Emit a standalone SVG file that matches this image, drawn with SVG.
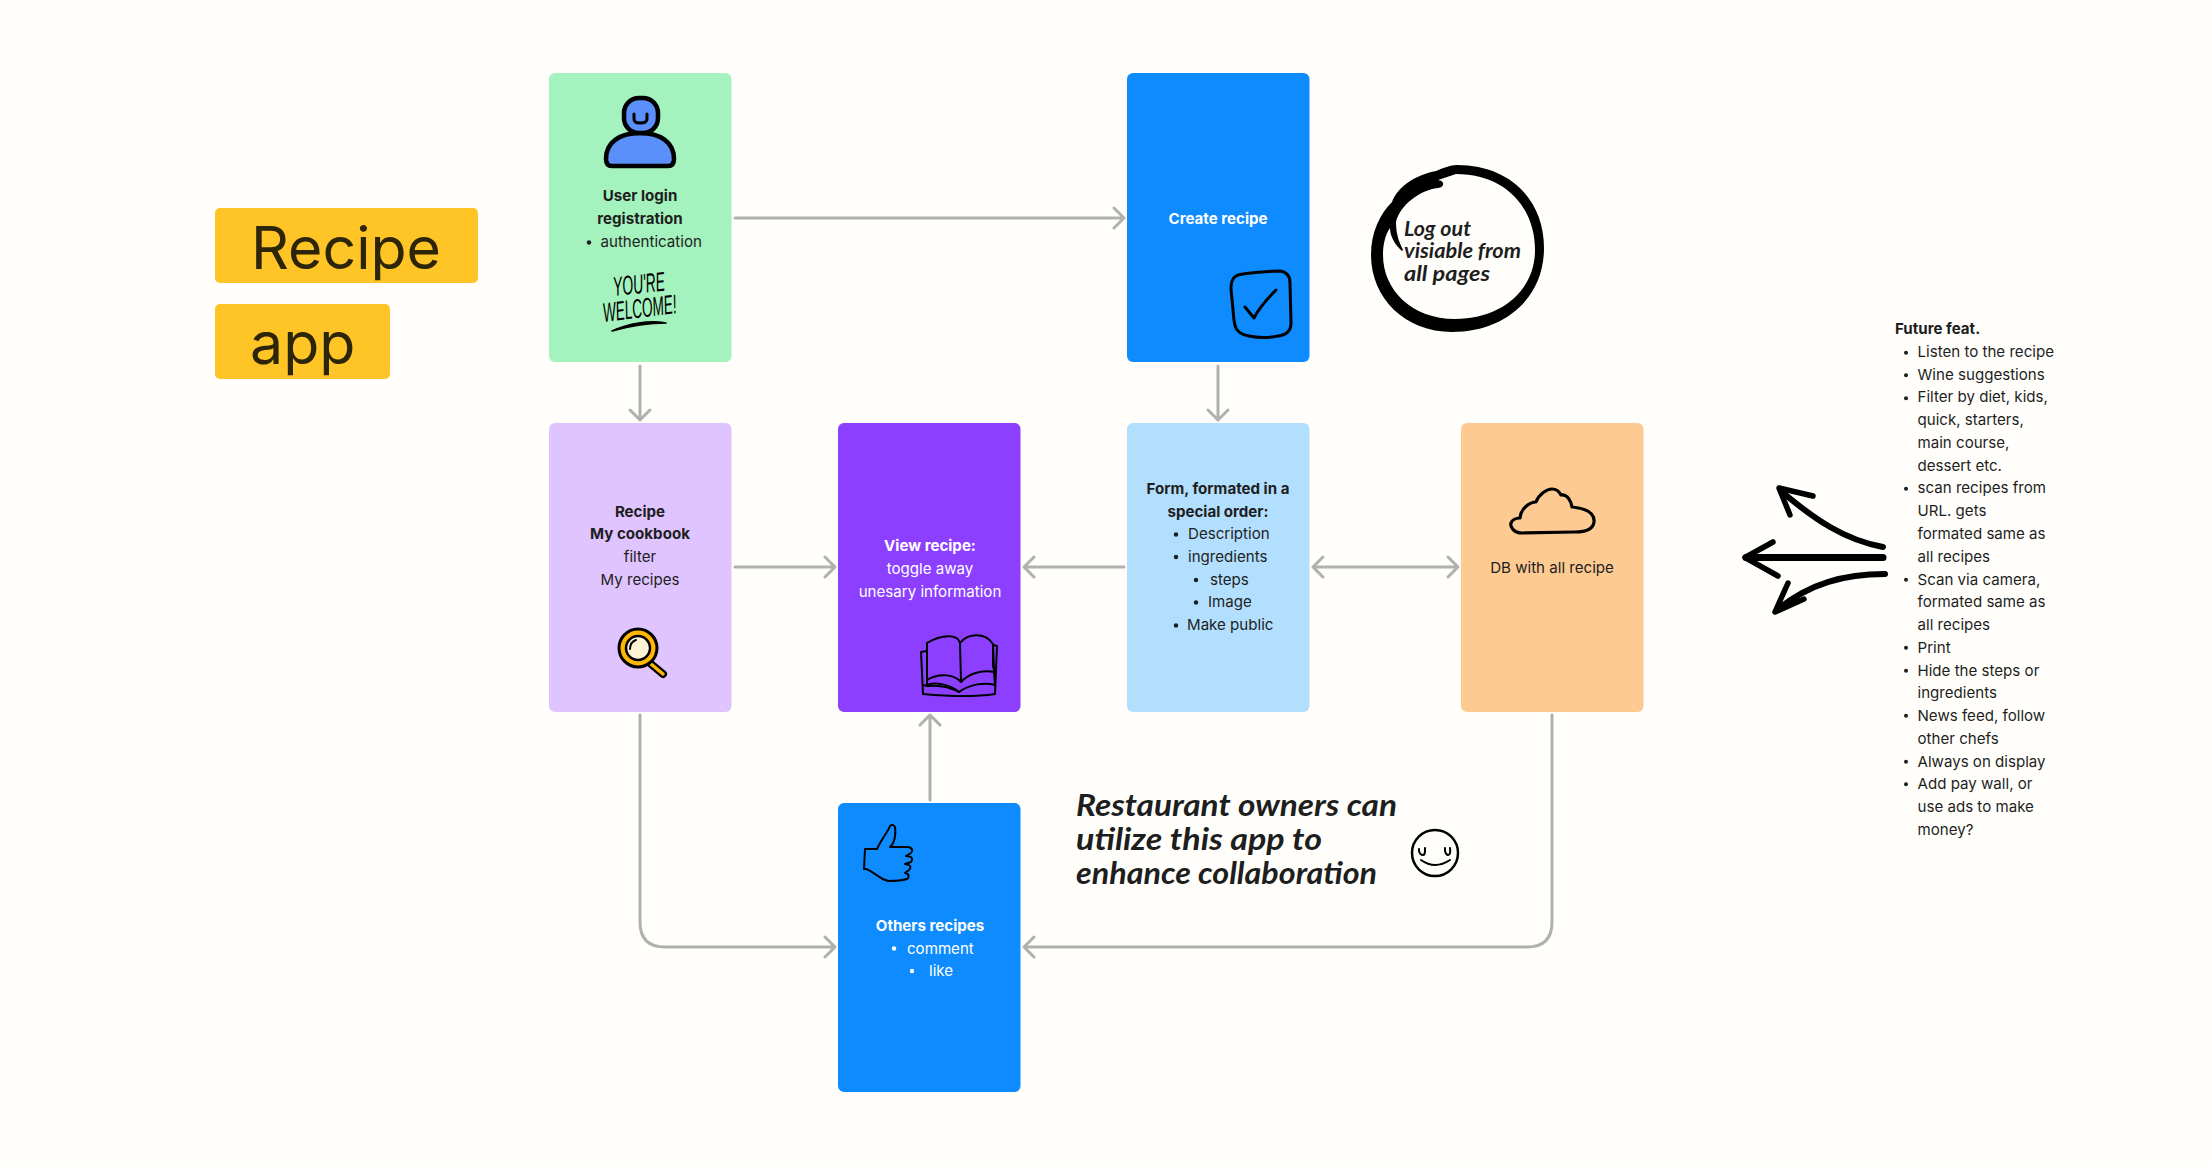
<svg xmlns="http://www.w3.org/2000/svg" width="2211" height="1164" viewBox="0 0 2211 1164">
<style>
text{font-family:Inter,"Liberation Sans",sans-serif;font-size:15.1px;fill:#1e1e1e}
.c{text-anchor:middle}
.b{font-weight:700}
.w{fill:#fff}
.t{font-size:59px;fill:#2d2508}
.h{font-family:Lato,"Liberation Sans",sans-serif;font-style:italic;font-weight:700;fill:#1e1e1e}
.h1{font-size:31px}
.h2{font-size:21px}
.y{font-family:"Liberation Sans",sans-serif;font-style:italic;font-weight:400;fill:#000;font-size:27px}
.conn path{fill:none;stroke:#b0b0ae;stroke-width:3;stroke-linecap:round;stroke-linejoin:round}
.ink{fill:none;stroke:#000;stroke-linecap:round;stroke-linejoin:round}
</style>
<rect width="2211" height="1164" fill="#fffefb"/>
<g id="title-recipe"><rect x="215" y="208" width="263" height="75" rx="5" fill="#ffc425"/><text class="t" x="251" y="269">Recipe</text></g>
<g id="title-app"><rect x="215" y="304" width="175" height="75" rx="5" fill="#ffc425"/><text class="t" x="250" y="364">app</text></g>
<g class="conn" id="connectors">
<path d="M735 218H1124M1114 208L1124 218L1114 228"/>
<path d="M640 366V420M630 410L640 420L650 410"/>
<path d="M1218 366V420M1208 410L1218 420L1228 410"/>
<path d="M735 567H835M825 557L835 567L825 577"/>
<path d="M1124 567H1024M1034 557L1024 567L1034 577"/>
<path d="M1313 567H1458M1323 557L1313 567L1323 577M1448 557L1458 567L1448 577"/>
<path d="M930 800V715M920 725L930 715L940 725"/>
<path d="M640 715V922Q640 947 665 947H835M825 937L835 947L825 957"/>
<path d="M1552 715V922Q1552 947 1527 947H1024M1034 937L1024 947L1034 957"/>
</g>
<g id="node-login">
<rect x="549" y="73" width="182.500" height="289" rx="6" fill="#a4f2bd"/>
<path d="M606 159C606 142 620 133 640 133C660 133 674 142 674 159Q674 166 668 166H612Q606 166 606 159Z" fill="#5b8ff9" stroke="#000" stroke-width="4.500"/>
<rect x="624" y="98" width="34" height="35" rx="15" fill="#5b8ff9" stroke="#000" stroke-width="4.500"/>
<path class="ink" stroke-width="3" d="M634 114V119Q634 123 640 123Q647 123 647 119V114"/>
<text class="c b" x="640" y="201">User login</text>
<text class="c b" x="640" y="224">registration</text>
<circle cx="589" cy="242.500" r="2.200" fill="#1e1e1e"/>
<text x="600.500" y="247">authentication</text>
<text class="y" transform="translate(614 296) rotate(-6)" textLength="52" lengthAdjust="spacingAndGlyphs">YOU'RE</text>
<text class="y" transform="translate(604 322) rotate(-7)" textLength="74" lengthAdjust="spacingAndGlyphs">WELCOME!</text>
<path d="M612 331C628 323 650 320 666 323C650 323 630 326 612 331Z" fill="#000" stroke="#000" stroke-width="1.500" stroke-linejoin="round"/>
</g>
<g id="node-create">
<rect x="1127" y="73" width="182.500" height="289" rx="6" fill="#0d8bff"/>
<text class="c b w" x="1218" y="224">Create recipe</text>
<path class="ink" stroke-width="3" d="M1243 274C1258 272 1270 271 1280 271C1287 272 1290 276 1290 283L1291 323C1291 331 1287 335 1278 336C1268 338 1258 338 1249 336C1238 334 1235 329 1234 320L1231 289C1231 279 1234 275 1243 274Z"/>
<path class="ink" stroke-width="3" d="M1245 307L1254 318C1260 306 1268 298 1276 290"/>
</g>
<g id="note-logout">
<path fill-rule="evenodd" d="M1457 165C1510 165 1544 200 1544 248C1544 298 1505 332 1452 332C1405 332 1371 298 1371 255C1371 232 1380 214 1392 202C1398 186 1416 175 1436 171C1443 168 1450 165 1457 165ZM1456 174C1505 174 1535 207 1535 250C1535 290 1502 319 1455 319C1412 319 1383 290 1383 255C1383 245 1385 235 1390 228C1390 236 1395 245 1402 251L1403 250C1398 240 1396 232 1396 222C1400 205 1420 190 1438 188C1445 187 1445 181 1438 180Z" fill="#000"/>
<text class="h h2" x="1404" y="236" textLength="67" lengthAdjust="spacingAndGlyphs">Log out</text>
<text class="h h2" x="1404" y="258" textLength="117" lengthAdjust="spacingAndGlyphs">visiable from</text>
<text class="h h2" x="1404" y="281" textLength="86" lengthAdjust="spacingAndGlyphs">all pages</text>
</g>
<g id="node-cookbook">
<rect x="549" y="423" width="182.500" height="289" rx="6" fill="#e0c4ff"/>
<text class="c b" x="640" y="516.500">Recipe</text>
<text class="c b" x="640" y="539">My cookbook</text>
<text class="c" x="640" y="562">filter</text>
<text class="c" x="640" y="584.500">My recipes</text>
<path d="M651 664L663 674" stroke="#000" stroke-width="8" stroke-linecap="round"/>
<path d="M651 664L663 674" stroke="#ffb800" stroke-width="3.500" stroke-linecap="round"/>
<circle cx="638" cy="648" r="19" fill="#ffb800" stroke="#000" stroke-width="3"/>
<circle cx="638" cy="648" r="12" fill="#fff3d6" stroke="#000" stroke-width="2.500"/>
<path class="ink" stroke-width="2" d="M630 649Q630 642 636 640"/>
</g>
<g id="node-view">
<rect x="838" y="423" width="182.500" height="289" rx="6" fill="#8c3fff"/>
<text class="c b w" x="930" y="550.500">View recipe:</text>
<text class="c w" x="930" y="573.500">toggle away</text>
<text class="c w" x="930" y="596.500">unesary information</text>
<g class="ink" stroke-width="2">
<path d="M927 643C942 634 958 634 960 643C968 633 985 632 993 644L993 666L995 673"/>
<path d="M927 643L927 680M960 643L961 681M993 644L994 670"/>
<path d="M927 680C940 672 955 675 961 682C970 672 985 670 994 672L995 685C985 682 970 684 959 692C950 684 935 682 927 685Z"/>
<path d="M927 651L921 652L923 694C945 696 975 697 995 694L997 646L993 645"/>
<path d="M923 685L927 686C938 685 950 687 959 692"/>
</g>
</g>
<g id="node-form">
<rect x="1127" y="423" width="182.500" height="289" rx="6" fill="#b3dfff"/>
<text class="c b" x="1218" y="494">Form, formated in a</text>
<text class="c b" x="1218" y="516.500">special order:</text>
<g fill="#1e1e1e"><circle cx="1176" cy="534.500" r="2.200"/><circle cx="1176" cy="557" r="2.200"/><circle cx="1196" cy="580" r="2.200"/><circle cx="1196" cy="602.500" r="2.200"/><circle cx="1176" cy="625.500" r="2.200"/></g>
<text x="1188" y="539">Description</text>
<text x="1188" y="562">ingredients</text>
<text x="1210" y="584.500">steps</text>
<text x="1208" y="607">Image</text>
<text x="1187" y="630">Make public</text>
</g>
<g id="node-db">
<rect x="1461" y="423" width="182.500" height="289" rx="6" fill="#fdca92"/>
<path class="ink" stroke-width="3.200" d="M1520 518C1521 508 1530 502 1536 502C1539 494 1547 489 1552 489C1558 489 1560 493 1561 495C1568 494 1571 502 1572 507C1582 508 1595 511 1594 522C1593 530 1585 532 1575 532L1522 533C1513 533 1510 526 1511 523C1512 520 1516 518 1520 518Z"/>
<text class="c" x="1552" y="573">DB with all recipe</text>
</g>
<g id="node-others">
<rect x="838" y="803" width="182.500" height="289" rx="6" fill="#0d8bff"/>
<path class="ink" stroke-width="2" d="M865 849L877 849C882 838 888 832 890 826C891 824 894 825 895 827C896 833 895 842 891 846L890 847L908 847C913 848 913 851 911 853L906 856C913 856 913 860 911 862L905 864C912 865 911 868 909 870L905 873C910 874 909 878 907 879C900 881 893 881 889 881C880 880 875 872 866 869L864 869Z"/>
<text class="c b w" x="930" y="930.500">Others recipes</text>
<circle cx="894" cy="948.500" r="2.200" fill="#fff"/>
<text class="w" x="907" y="953.500">comment</text>
<circle cx="912" cy="971" r="2.200" fill="#fff"/>
<text class="w" x="929" y="976">like</text>
</g>
<g id="note-restaurant">
<text class="h h1" x="1076" y="816" textLength="321" lengthAdjust="spacingAndGlyphs">Restaurant owners can</text>
<text class="h h1" x="1076" y="850" textLength="246" lengthAdjust="spacingAndGlyphs">utilize this app to</text>
<text class="h h1" x="1076" y="884" textLength="301" lengthAdjust="spacingAndGlyphs">enhance collaboration</text>
<circle cx="1435" cy="853" r="23" fill="none" stroke="#000" stroke-width="2.500"/>
<path class="ink" stroke-width="2" d="M1419 849V851Q1420 855 1423 855Q1425 855 1425 851V848M1445 848V851Q1446 855 1448 855Q1451 855 1450 848M1421 860Q1435 870 1450 860"/>
</g>
<g id="sketch-arrows">
<path class="ink" stroke-width="7" d="M1883 557.500H1746"/>
<path class="ink" stroke-width="5.500" d="M1773 542L1745 557.500L1778 576"/>
<path class="ink" stroke-width="6" d="M1883 547C1845 540 1815 520 1781 491"/>
<path class="ink" stroke-width="5.500" d="M1813 496L1779 488L1790 515"/>
<path class="ink" stroke-width="6" d="M1885 574C1845 574 1810 583 1777 610"/>
<path class="ink" stroke-width="5.500" d="M1788 583L1775 612L1804 599"/>
</g>
<g id="note-future" transform="translate(0 .8)">
<text class="b" x="1895" y="333">Future feat.</text>
<g fill="#1e1e1e"><circle cx="1906" cy="352" r="2"/><circle cx="1906" cy="374.500" r="2"/><circle cx="1906" cy="397.500" r="2"/><circle cx="1906" cy="488" r="2"/><circle cx="1906" cy="579" r="2"/><circle cx="1906" cy="647" r="2"/><circle cx="1906" cy="670" r="2"/><circle cx="1906" cy="715" r="2"/><circle cx="1906" cy="761" r="2"/><circle cx="1906" cy="783.500" r="2"/></g>
<text x="1917.500" y="356">Listen to the recipe</text>
<text x="1917.500" y="379">Wine suggestions</text>
<text x="1917.500" y="401.500">Filter by diet, kids,</text>
<text x="1917.500" y="424.500">quick, starters,</text>
<text x="1917.500" y="447">main course,</text>
<text x="1917.500" y="470">dessert etc.</text>
<text x="1917.500" y="492.500">scan recipes from</text>
<text x="1917.500" y="515.500">URL. gets</text>
<text x="1917.500" y="538">formated same as</text>
<text x="1917.500" y="561">all recipes</text>
<text x="1917.500" y="584">Scan via camera,</text>
<text x="1917.500" y="606.500">formated same as</text>
<text x="1917.500" y="629.500">all recipes</text>
<text x="1917.500" y="652">Print</text>
<text x="1917.500" y="675">Hide the steps or</text>
<text x="1917.500" y="697.500">ingredients</text>
<text x="1917.500" y="720.500">News feed, follow</text>
<text x="1917.500" y="743">other chefs</text>
<text x="1917.500" y="766">Always on display</text>
<text x="1917.500" y="788.500">Add pay wall, or</text>
<text x="1917.500" y="811.500">use ads to make</text>
<text x="1917.500" y="834">money?</text>
</g>
</svg>
